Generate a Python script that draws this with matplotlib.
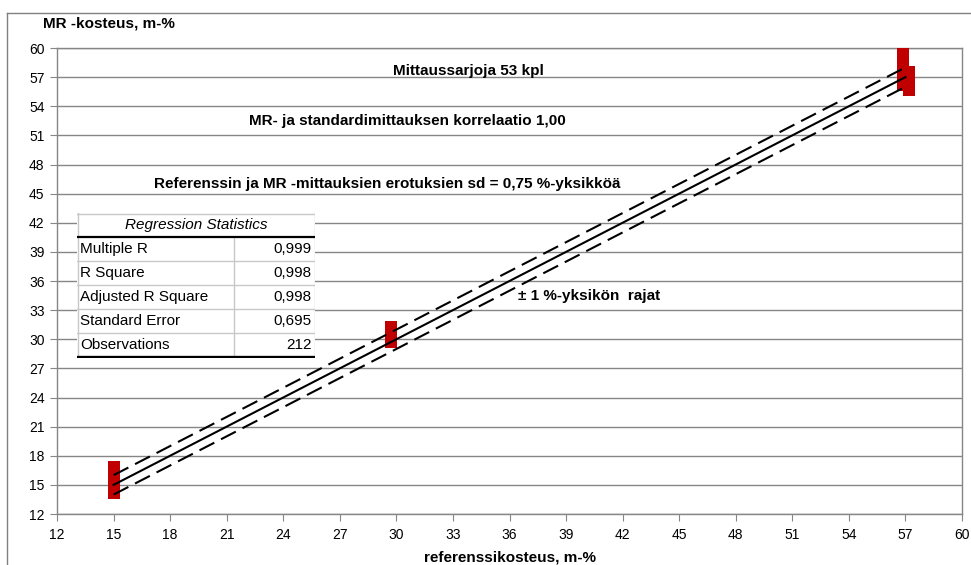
import matplotlib.pyplot as plt
from matplotlib.lines import Line2D

plt.rcParams['font.family'] = ['Liberation Sans', 'DejaVu Sans']

# mittaukset: referenssikosteus ja MR-kosteus (m-%)
ref_15 = [15.0, 15.0, 15.0, 15.0, 15.0, 15.0, 15.0, 15.0]
mr_15 = [14.2, 14.6, 15.0, 15.4, 15.8, 16.2, 16.6, 16.85]
ref_30 = [29.7, 29.7, 29.7, 29.7, 29.7]
mr_30 = [29.7, 30.1, 30.5, 30.9, 31.3]
ref_57a = [56.85, 56.85, 56.85, 56.85, 56.85, 56.85, 56.85]
mr_57a = [56.2, 56.7, 57.2, 57.7, 58.2, 58.7, 59.35]
ref_57b = [57.2, 57.2, 57.2, 57.2, 57.2]
mr_57b = [55.7, 56.2, 56.7, 57.2, 57.55]

# 1:1 suora ja +-1 %-yksikön rajat
line_x = [15, 57]
line_y = [15, 57]
upper_y = [16, 58]
lower_y = [14, 56]

ticks = list(range(12, 61, 3))

stat_labels = ['Multiple R', 'R Square', 'Adjusted R Square', 'Standard Error', 'Observations']
stat_values = ['0,999', '0,998', '0,998', '0,695', '212']

W, H = 971, 565
fig = plt.figure(figsize=(W / 100, H / 100), dpi=100)
ax = fig.add_axes([57 / W, 1 - 514 / H, (962 - 57) / W, (514 - 48) / H])

grid_c = '#868686'
ax.set_xlim(12, 60)
ax.set_ylim(12, 60)
ax.set_xticks(ticks)
ax.set_yticks(ticks)
ax.yaxis.grid(True, color=grid_c, linewidth=1)
ax.set_axisbelow(True)
for s in ax.spines.values():
    s.set_color(grid_c)
    s.set_linewidth(1)
ax.tick_params(direction='out', length=5, color=grid_c, labelsize=10, pad=4)
ax.tick_params(axis='x', pad=5)

red = '#c00000'
for xs, ys in [(ref_15, mr_15), (ref_30, mr_30), (ref_57a, mr_57a), (ref_57b, mr_57b)]:
    ax.plot(xs, ys, 's', color=red, markersize=8, markeredgewidth=0, clip_on=False, zorder=3)

ax.plot(line_x, line_y, color='black', linewidth=1.5, zorder=4)
ax.plot(line_x, upper_y, color='black', linewidth=1.5, dashes=(8, 3.6), zorder=4)
ax.plot(line_x, lower_y, color='black', linewidth=1.5, dashes=(8, 3.6), zorder=4)

bold = dict(fontsize=11, fontweight='bold', va='center')
ax.text(33.8, 57.6, 'Mittaussarjoja 53 kpl', ha='center', **bold)
ax.text(30.6, 52.5, 'MR- ja standardimittauksen korrelaatio 1,00', ha='center', **bold)
ax.text(29.5, 46.0, 'Referenssin ja MR -mittauksien erotuksien sd = 0,75 %-yksikköä', ha='center', **bold)
ax.text(36.45, 34.5, '± 1 %-yksikön  rajat', ha='left', **bold)

fig.text(43 / W, 1 - 23 / H, 'MR -kosteus, m-%', ha='left', **bold)
fig.text(510 / W, 1 - 557 / H, 'referenssikosteus, m-%', ha='center', **bold)

# kuvan kehys
fig.add_artist(Line2D([7 / W, 1], [1 - 13 / H, 1 - 13 / H], transform=fig.transFigure, color='#808080', lw=1))
fig.add_artist(Line2D([7 / W, 7 / W], [0, 1 - 13 / H], transform=fig.transFigure, color='#808080', lw=1))

# regressiotaulukko
tx0, tx1, ty0, ty1 = 77, 315, 213, 358
tab = fig.add_axes([tx0 / W, 1 - ty1 / H, (tx1 - tx0) / W, (ty1 - ty0) / H])
tab.set_xlim(0, tx1 - tx0)
tab.set_ylim(ty1 - ty0, 0)
tab.set_facecolor('white')
tab.set_xticks([])
tab.set_yticks([])
for s in tab.spines.values():
    s.set_visible(False)

cell_c = '#c8c8c8'
tw = tx1 - tx0
row_h = 24
split = 157
tab.plot([0, tw], [0.5, 0.5], color=cell_c, lw=1)
tab.plot([0.5, 0.5], [0, ty1 - ty0], color=cell_c, lw=1)
tab.plot([tw - 0.5, tw - 0.5], [0, ty1 - ty0], color=cell_c, lw=1)
tab.plot([split, split], [row_h, ty1 - ty0], color=cell_c, lw=1)
for i in range(2, len(stat_labels) + 1):
    tab.plot([0, tw], [i * row_h, i * row_h], color=cell_c, lw=1)
tab.plot([0, tw], [row_h, row_h], color='black', lw=1.6)
tab.plot([0, tw], [ty1 - ty0 - 1.5, ty1 - ty0 - 1.5], color='black', lw=2.4)

tab.text(tw / 2, row_h / 2, 'Regression Statistics', ha='center', va='center', fontsize=11,
         fontstyle='italic')
for i, (lab, val) in enumerate(zip(stat_labels, stat_values)):
    yc = row_h * (i + 1.5)
    tab.text(3, yc, lab, ha='left', va='center', fontsize=11)
    tab.text(tw - 3, yc, val, ha='right', va='center', fontsize=11)

fig.savefig('out.png', dpi=100)
